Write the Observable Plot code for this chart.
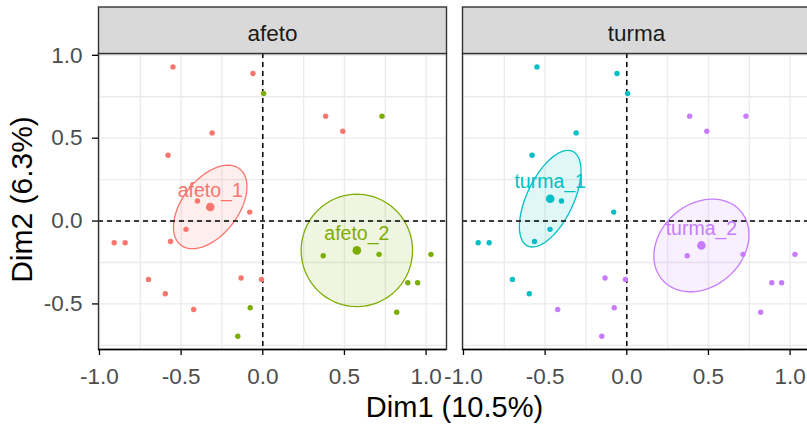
<!DOCTYPE html>
<html><head><meta charset="utf-8">
<script src="https://cdn.jsdelivr.net/npm/d3@7"></script>
<script src="https://cdn.jsdelivr.net/npm/@observablehq/plot@0.6"></script>
<style>
html,body{margin:0;padding:0;background:#fff;overflow:hidden}
#wrap{width:807px;height:424px;overflow:hidden;position:relative}
#wrap svg{max-width:none !important;width:812px;height:424px}
</style></head><body><div id="wrap"></div>
<script>
// ---- data ----
const facets = ["afeto", "turma"];
const groups = ["afeto_1", "afeto_2", "turma_1", "turma_2"];
const groupColors = ["#F8766D", "#7CAE00", "#00BFC4", "#C77CFF"];

// individuals (Dim1, Dim2) and their categories
const dim1 = [-0.55, -0.06, 0.005, 0.385, 0.73, 0.49, -0.31, -0.58, -0.40, -0.08, -0.47, -0.91, -0.843, -0.565, 0.37, 0.712, 1.03, -0.70, -0.133, -0.008, 0.888, 0.948, -0.597, -0.423, -0.077, 0.82, -0.153];
const dim2 = [0.93, 0.89, 0.77, 0.633, 0.633, 0.542, 0.532, 0.397, 0.121, 0.054, -0.05, -0.131, -0.131, -0.123, -0.209, -0.201, -0.201, -0.352, -0.344, -0.352, -0.372, -0.372, -0.439, -0.534, -0.523, -0.55, -0.695];
const afeto = [1, 1, 2, 1, 2, 1, 1, 1, 1, 1, 1, 1, 1, 1, 2, 2, 2, 1, 1, 1, 2, 2, 1, 1, 2, 2, 2];
const turma = [1, 1, 1, 2, 2, 2, 1, 1, 1, 1, 1, 1, 1, 1, 2, 2, 2, 1, 2, 2, 2, 2, 1, 2, 2, 2, 2];

// group centroids
const centroidX = [-0.322, 0.576, -0.469, 0.457];
const centroidY = [0.085, -0.177, 0.135, -0.147];
// confidence ellipses: semi-axes (data units) and rotation (degrees)
const ellipseA = [0.292, 0.341, 0.317, 0.317];
const ellipseB = [0.170, 0.339, 0.142, 0.250];
const ellipseAngle = [51.6, 0, 64, 40];

const xTicks = [-1, -0.5, 0, 0.5, 1];
const yTicks = [-0.5, 0, 0.5, 1];
const xGrid = [-1, -0.75, -0.5, -0.25, 0, 0.25, 0.5, 0.75, 1];
const yGrid = [-0.75, -0.5, -0.25, 0, 0.25, 0.5, 0.75, 1];
const xTitle = "Dim1 (10.5%)";
const yTitle = "Dim2 (6.3%)";

const X_DOMAIN = [-1.006, 1.125];
const Y_DOMAIN = [-0.775, 1.011];

// ---- build tables ----
const pts = [];
dim1.forEach((x, i) => {
  pts.push({fx: "afeto", x, y: dim2[i], g: "afeto_" + afeto[i]});
  pts.push({fx: "turma", x, y: dim2[i], g: "turma_" + turma[i]});
});
const cents = groups.map((g, i) => ({fx: g.split("_")[0], g, x: centroidX[i], y: centroidY[i]}));
const ell = [];
groups.forEach((g, i) => {
  const th = ellipseAngle[i] * Math.PI / 180;
  for (let k = 0; k < 96; k++) {
    const t = 2 * Math.PI * k / 96;
    const u = ellipseA[i] * Math.cos(t), v = ellipseB[i] * Math.sin(t);
    ell.push({fx: g.split("_")[0], g,
      x: centroidX[i] + u * Math.cos(th) - v * Math.sin(th),
      y: centroidY[i] + u * Math.sin(th) + v * Math.cos(th)});
  }
});

const FONT = "'Liberation Sans', Arial, Helvetica, sans-serif";
const chart = Plot.plot({
  width: 812, height: 424,
  marginLeft: 98, marginRight: 1, marginTop: 53, marginBottom: 75,
  style: {fontFamily: FONT, fontSize: "22.5px", background: "white", color: "#4D4D4D", overflow: "visible", maxWidth: "none"},
  fx: {domain: facets, paddingInner: 0.0439, paddingOuter: 0, axis: null, label: null},
  x: {domain: X_DOMAIN},
  y: {domain: Y_DOMAIN},
  color: {domain: groups, range: groupColors},
  marks: [
    Plot.gridX(xGrid, {stroke: "#EBEBEB", strokeOpacity: 1, strokeWidth: 1.3}),
    Plot.gridY(yGrid, {stroke: "#EBEBEB", strokeOpacity: 1, strokeWidth: 1.3}),
    Plot.line(ell, {x: "x", y: "y", z: "g", fx: "fx", stroke: "g", fill: "g", fillOpacity: 0.12, strokeWidth: 1.3, curve: "linear-closed"}),
    Plot.ruleX([0], {stroke: "black", strokeWidth: 1.5, strokeDasharray: "5,4"}),
    Plot.ruleY([0], {stroke: "black", strokeWidth: 1.5, strokeDasharray: "5,4"}),
    Plot.dot(pts, {x: "x", y: "y", fx: "fx", fill: "g", r: 2.7}),
    Plot.dot(cents, {x: "x", y: "y", fx: "fx", fill: "g", r: 4.3}),
    Plot.text(cents, {x: "x", y: "y", fx: "fx", text: "g", fill: "g", dy: -16.5, fontSize: 19.5, lineAnchor: "middle"}),
    Plot.frame({stroke: "#333333", strokeWidth: 1.4}),
    Plot.ruleY([Y_DOMAIN[0]], {stroke: "black", strokeWidth: 1.4}),
    Plot.axisX(xTicks, {tickFormat: d => d.toFixed(1), tickSize: 6, tickPadding: 13, stroke: "black", strokeWidth: 1.3, fill: "#4D4D4D", label: null, fontSize: 22.5}),
    Plot.axisY(yTicks, {tickFormat: d => d.toFixed(1), tickSize: 6, tickPadding: 10, stroke: "black", strokeWidth: 1.3, fill: "#4D4D4D", label: null, fontSize: 22.5})
  ]
});
document.getElementById("wrap").appendChild(chart);

// strips and axis titles
(function () {
  const svg = d3.select(chart);
  const sb = chart.getBoundingClientRect();
  const rects = [];
  chart.querySelectorAll('[aria-label="frame"]').forEach(n => {
    const list = n.tagName.toLowerCase() === "rect" ? [n] : Array.from(n.querySelectorAll("rect"));
    list.forEach(r => rects.push(r.getBoundingClientRect()));
  });
  rects.sort((a, b) => a.left - b.left);
  const stripTop = 7;
  rects.forEach((r, i) => {
    const x0 = r.left - sb.left, y1 = r.top - sb.top;
    svg.append("rect").attr("x", x0).attr("y", stripTop).attr("width", r.width).attr("height", y1 - stripTop)
      .attr("fill", "#D9D9D9").attr("stroke", "#333333").attr("stroke-width", 1.4);
    svg.append("text").attr("x", x0 + r.width / 2).attr("y", 41).attr("text-anchor", "middle")
      .attr("font-family", FONT).attr("font-size", 22.5).attr("fill", "#1A1A1A").text(facets[i]);
  });
  if (rects.length) {
    const left = rects[0].left - sb.left;
    const right = rects[rects.length - 1].right - sb.left;
    const ptop = rects[0].top - sb.top, pbot = rects[0].bottom - sb.top;
    svg.append("text").attr("x", (left + right) / 2).attr("y", 417).attr("text-anchor", "middle")
      .attr("font-family", FONT).attr("font-size", 29).attr("fill", "black").text(xTitle);
    svg.append("text").attr("transform", `translate(32,${(ptop + pbot) / 2 - 2}) rotate(-90)`).attr("text-anchor", "middle")
      .attr("font-family", FONT).attr("font-size", 30).attr("fill", "black").text(yTitle);
  }
})();
</script></body></html>
